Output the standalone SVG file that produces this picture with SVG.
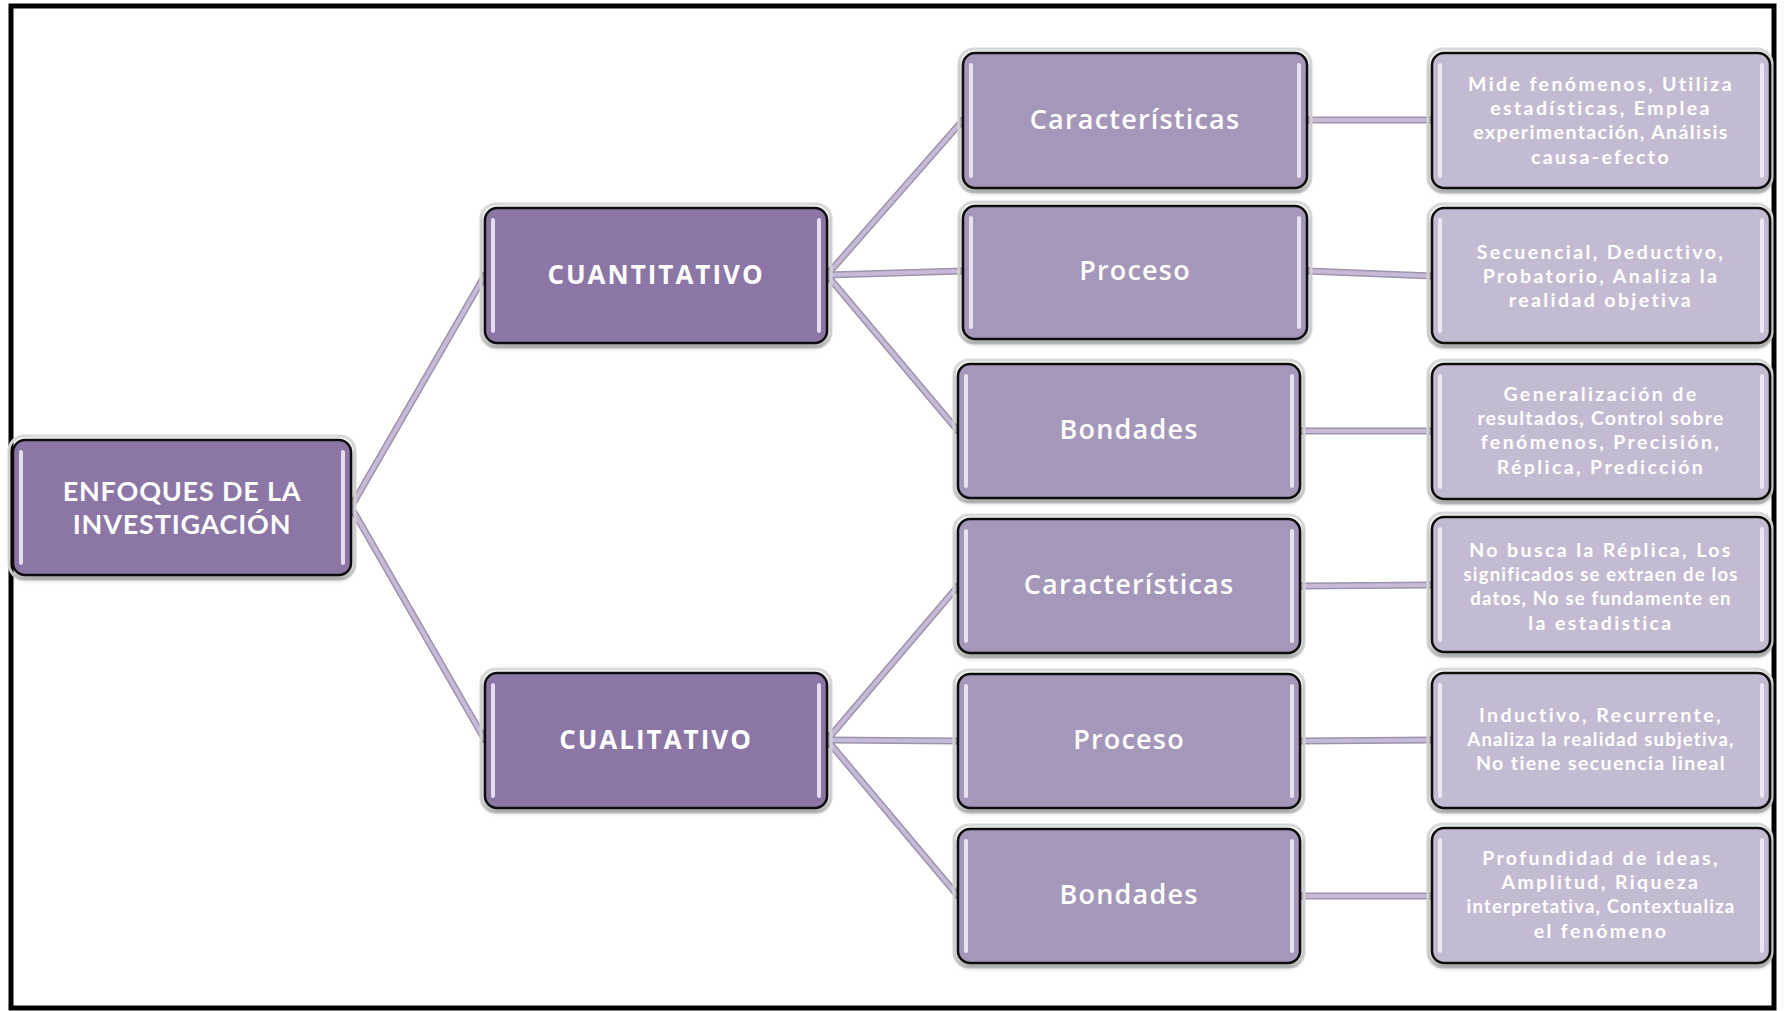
<svg xmlns="http://www.w3.org/2000/svg" width="1786" height="1011" viewBox="0 0 1786 1011">
<defs>
<style>
.halo{fill:none;stroke:#d9d9d9;stroke-width:3}
.box{stroke:#111;stroke-width:2.5}
.l0{fill:#8b76a6}
.l1{fill:#8b76a6}
.l2{fill:#a597ba}
.l3{fill:#c4bbd2}
.hl{stroke:#f4effa;stroke-width:4;stroke-linecap:round;opacity:.85}
.t{fill:#ffffff;font-family:"Open Sans","Liberation Sans",sans-serif;text-anchor:middle}
.tb{font-weight:700;font-size:26px;letter-spacing:2px}
.tr{font-family:Lato,"Liberation Sans",sans-serif;font-weight:700;font-size:27px;letter-spacing:.8px}
.tm{font-weight:600;font-size:27px;letter-spacing:1.2px}
.ts{font-family:Lato,"Liberation Sans",sans-serif;font-weight:700;font-size:19.5px;letter-spacing:2.4px}
.tn{font-family:Lato,"Liberation Sans",sans-serif;font-weight:700;font-size:18.5px;letter-spacing:1.2px}
.cOut{stroke:#9e93ad;stroke-width:7;fill:none;stroke-linecap:round}
.cIn{stroke:#c6bad8;stroke-width:4;fill:none;stroke-linecap:round}
</style>
<filter id="sh" x="-10%" y="-10%" width="120%" height="130%">
<feDropShadow dx="0" dy="3" stdDeviation="2.5" flood-color="#000" flood-opacity="0.35"/>
</filter>
</defs>
<rect x="0" y="0" width="1786" height="1011" fill="#ffffff"/>
<g id="frame">
<rect x="11" y="6" width="1763" height="1002" fill="none" stroke="#000" stroke-width="5"/>
</g>
<g id="connectors">
<g class="cOut">
<path d="M351,507 L485,275"/><path d="M351,507 L485,740"/>
<path d="M827,275 L963,120"/><path d="M827,275 L963,271"/><path d="M827,275 L958,431"/>
<path d="M827,740 L958,586"/><path d="M827,740 L958,741"/><path d="M827,740 L958,896"/>
<path d="M1307,120 L1432,120"/><path d="M1307,271 L1432,276"/><path d="M1300,431 L1432,431"/>
<path d="M1300,586 L1432,585"/><path d="M1300,741 L1432,740"/><path d="M1300,896 L1432,896"/>
</g>
<g class="cIn">
<path d="M351,507 L485,275"/><path d="M351,507 L485,740"/>
<path d="M827,275 L963,120"/><path d="M827,275 L963,271"/><path d="M827,275 L958,431"/>
<path d="M827,740 L958,586"/><path d="M827,740 L958,741"/><path d="M827,740 L958,896"/>
<path d="M1307,120 L1432,120"/><path d="M1307,271 L1432,276"/><path d="M1300,431 L1432,431"/>
<path d="M1300,586 L1432,585"/><path d="M1300,741 L1432,740"/><path d="M1300,896 L1432,896"/>
</g>
</g>

<g id="root">
<rect class="halo" x="9" y="436" width="346" height="143" rx="15"/>
<rect class="box l0" x="13" y="440" width="338" height="135" rx="12" filter="url(#sh)"/>
<line class="hl" x1="21" y1="452" x2="21" y2="563"/><line class="hl" x1="343" y1="452" x2="343" y2="563"/>
<text class="t tr" x="182" y="501">ENFOQUES DE LA</text>
<text class="t tr" x="182" y="534">INVESTIGACIÓN</text>
</g>

<g id="cuantitativo">
<rect class="halo" x="481" y="204" width="350" height="143" rx="15"/>
<rect class="box l1" x="485" y="208" width="342" height="135" rx="12" filter="url(#sh)"/>
<line class="hl" x1="493" y1="220" x2="493" y2="331"/><line class="hl" x1="819" y1="220" x2="819" y2="331"/>
<text class="t tb" x="656" y="284">CUANTITATIVO</text>
</g>

<g id="cualitativo">
<rect class="halo" x="481" y="669" width="350" height="143" rx="15"/>
<rect class="box l1" x="485" y="673" width="342" height="135" rx="12" filter="url(#sh)"/>
<line class="hl" x1="493" y1="685" x2="493" y2="796"/><line class="hl" x1="819" y1="685" x2="819" y2="796"/>
<text class="t tb" x="656" y="749">CUALITATIVO</text>
</g>

<g id="cuant-caracteristicas">
<rect class="halo" x="959" y="49" width="352" height="143" rx="15"/>
<rect class="box l2" x="963" y="53" width="344" height="135" rx="12" filter="url(#sh)"/>
<line class="hl" x1="971" y1="65" x2="971" y2="176"/><line class="hl" x1="1299" y1="65" x2="1299" y2="176"/>
<text class="t tm" x="1135" y="129">Características</text>
</g>

<g id="cuant-proceso">
<rect class="halo" x="959" y="202" width="352" height="141" rx="15"/>
<rect class="box l2" x="963" y="206" width="344" height="133" rx="12" filter="url(#sh)"/>
<line class="hl" x1="971" y1="218" x2="971" y2="327"/><line class="hl" x1="1299" y1="218" x2="1299" y2="327"/>
<text class="t tm" x="1135" y="280">Proceso</text>
</g>

<g id="cuant-bondades">
<rect class="halo" x="954" y="360" width="350" height="142" rx="15"/>
<rect class="box l2" x="958" y="364" width="342" height="134" rx="12" filter="url(#sh)"/>
<line class="hl" x1="966" y1="376" x2="966" y2="486"/><line class="hl" x1="1292" y1="376" x2="1292" y2="486"/>
<text class="t tm" x="1129" y="439">Bondades</text>
</g>

<g id="cual-caracteristicas">
<rect class="halo" x="954" y="515" width="350" height="142" rx="15"/>
<rect class="box l2" x="958" y="519" width="342" height="134" rx="12" filter="url(#sh)"/>
<line class="hl" x1="966" y1="531" x2="966" y2="641"/><line class="hl" x1="1292" y1="531" x2="1292" y2="641"/>
<text class="t tm" x="1129" y="594">Características</text>
</g>

<g id="cual-proceso">
<rect class="halo" x="954" y="670" width="350" height="142" rx="15"/>
<rect class="box l2" x="958" y="674" width="342" height="134" rx="12" filter="url(#sh)"/>
<line class="hl" x1="966" y1="686" x2="966" y2="796"/><line class="hl" x1="1292" y1="686" x2="1292" y2="796"/>
<text class="t tm" x="1129" y="749">Proceso</text>
</g>

<g id="cual-bondades">
<rect class="halo" x="954" y="825" width="350" height="142" rx="15"/>
<rect class="box l2" x="958" y="829" width="342" height="134" rx="12" filter="url(#sh)"/>
<line class="hl" x1="966" y1="841" x2="966" y2="951"/><line class="hl" x1="1292" y1="841" x2="1292" y2="951"/>
<text class="t tm" x="1129" y="904">Bondades</text>
</g>

<g id="desc-1">
<rect class="halo" x="1428" y="49" width="344" height="143" rx="15"/>
<rect class="box l3" x="1432" y="53" width="338" height="135" rx="12" filter="url(#sh)"/>
<line class="hl" x1="1440" y1="65" x2="1440" y2="176"/><line class="hl" x1="1762" y1="65" x2="1762" y2="176"/>
<text class="t ts" x="1601" y="91">Mide fenómenos, Utiliza</text>
<text class="t ts" x="1601" y="115">estadísticas, Emplea</text>
<text class="t ts" x="1601" y="139" style="letter-spacing:1.4px">experimentación, Análisis</text>
<text class="t ts" x="1601" y="164">causa-efecto</text>
</g>

<g id="desc-2">
<rect class="halo" x="1428" y="204" width="344" height="143" rx="15"/>
<rect class="box l3" x="1432" y="208" width="338" height="135" rx="12" filter="url(#sh)"/>
<line class="hl" x1="1440" y1="220" x2="1440" y2="331"/><line class="hl" x1="1762" y1="220" x2="1762" y2="331"/>
<text class="t ts" x="1601" y="259">Secuencial, Deductivo,</text>
<text class="t ts" x="1601" y="283">Probatorio, Analiza la</text>
<text class="t ts" x="1601" y="307">realidad objetiva</text>
</g>

<g id="desc-3">
<rect class="halo" x="1428" y="360" width="344" height="143" rx="15"/>
<rect class="box l3" x="1432" y="364" width="338" height="135" rx="12" filter="url(#sh)"/>
<line class="hl" x1="1440" y1="376" x2="1440" y2="487"/><line class="hl" x1="1762" y1="376" x2="1762" y2="487"/>
<text class="t ts" x="1601" y="401">Generalización de</text>
<text class="t ts" x="1601" y="425" style="letter-spacing:1.2px">resultados, Control sobre</text>
<text class="t ts" x="1601" y="449">fenómenos, Precisión,</text>
<text class="t ts" x="1601" y="474">Réplica, Predicción</text>
</g>

<g id="desc-4">
<rect class="halo" x="1428" y="513" width="344" height="143" rx="15"/>
<rect class="box l3" x="1432" y="517" width="338" height="135" rx="12" filter="url(#sh)"/>
<line class="hl" x1="1440" y1="529" x2="1440" y2="640"/><line class="hl" x1="1762" y1="529" x2="1762" y2="640"/>
<text class="t ts" x="1601" y="557">No busca la Réplica, Los</text>
<text class="t tn" x="1601" y="581">significados se extraen de los</text>
<text class="t tn" x="1601" y="605">datos, No se fundamente en</text>
<text class="t ts" x="1601" y="630">la estadistica</text>
</g>

<g id="desc-5">
<rect class="halo" x="1428" y="669" width="344" height="143" rx="15"/>
<rect class="box l3" x="1432" y="673" width="338" height="135" rx="12" filter="url(#sh)"/>
<line class="hl" x1="1440" y1="685" x2="1440" y2="796"/><line class="hl" x1="1762" y1="685" x2="1762" y2="796"/>
<text class="t ts" x="1601" y="722">Inductivo, Recurrente,</text>
<text class="t tn" x="1601" y="746">Analiza la realidad subjetiva,</text>
<text class="t ts" x="1601" y="770" style="letter-spacing:1.4px">No tiene secuencia lineal</text>
</g>

<g id="desc-6">
<rect class="halo" x="1428" y="824" width="344" height="143" rx="15"/>
<rect class="box l3" x="1432" y="828" width="338" height="135" rx="12" filter="url(#sh)"/>
<line class="hl" x1="1440" y1="840" x2="1440" y2="951"/><line class="hl" x1="1762" y1="840" x2="1762" y2="951"/>
<text class="t ts" x="1601" y="865">Profundidad de ideas,</text>
<text class="t ts" x="1601" y="889">Amplitud, Riqueza</text>
<text class="t tn" x="1601" y="913">interpretativa, Contextualiza</text>
<text class="t ts" x="1601" y="938">el fenómeno</text>
</g>
</svg>
